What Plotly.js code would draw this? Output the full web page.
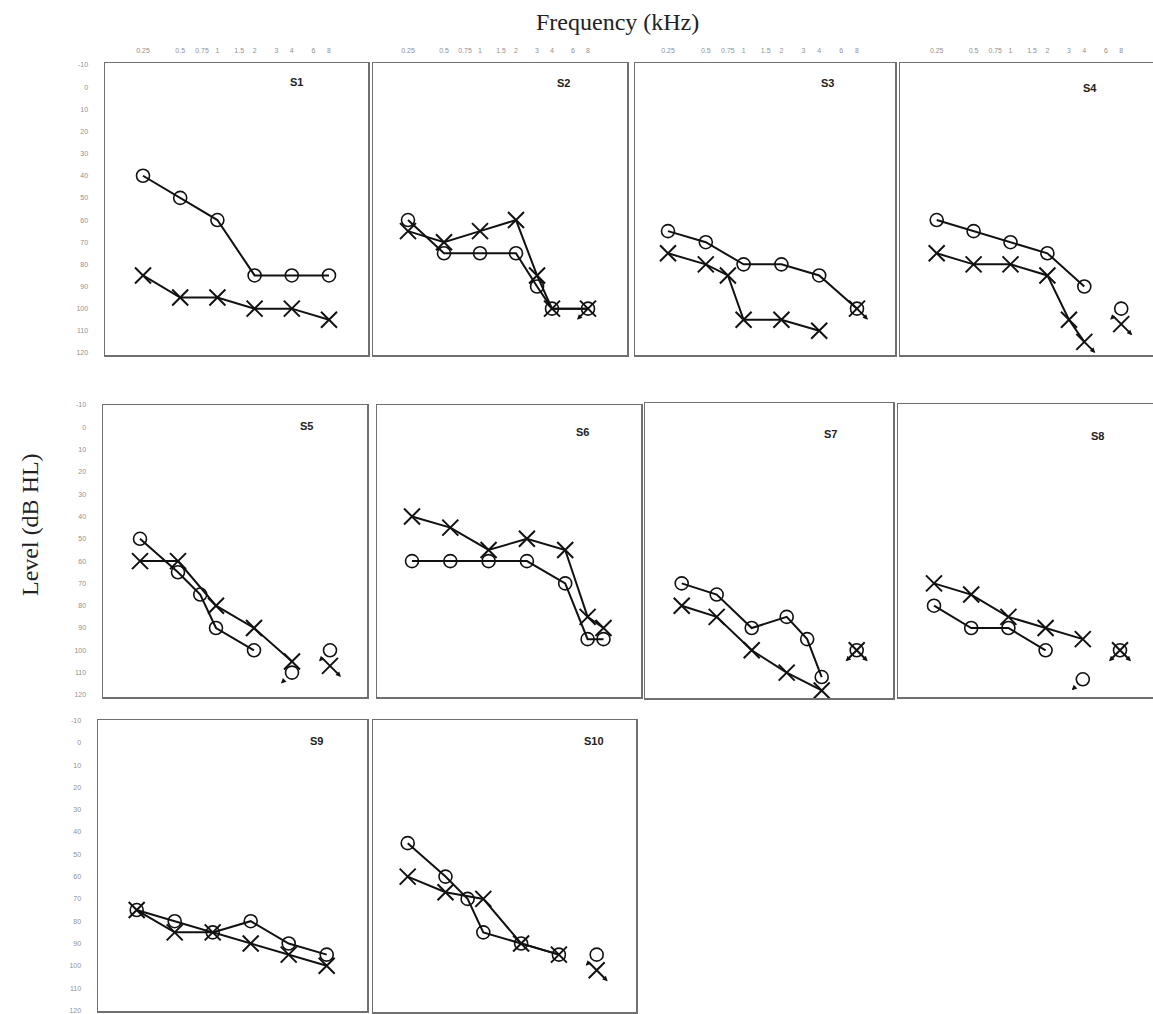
<!DOCTYPE html>
<html><head><meta charset="utf-8">
<script src="https://cdn.plot.ly/plotly-3.0.1.min.js"></script>
<style>html,body{margin:0;padding:0;background:#fff}#chart{width:1153px;height:1014px}</style>
</head><body><div id="chart"></div>
<script>
// ---------- tick labels ----------
const FREQ_TICKS = [0.25, 0.5, 0.75, 1, 1.5, 2, 3, 4, 6, 8];
const FREQ_TICK_TEXT = ['0.25', '0.5', '0.75', '1', '1.5', '2', '3', '4', '6', '8'];
const LEVEL_TICKS = [-10, 0, 10, 20, 30, 40, 50, 60, 70, 80, 90, 100, 110, 120];
const LEVEL_TICK_TEXT = ['-10', '0', '10', '20', '30', '40', '50', '60', '70', '80', '90', '100', '110', '120'];

// ---------- data: O = right ear, X = left ear (dB HL) ----------
const s1RightFreq = [0.25, 0.5, 1, 2, 4, 8];
const s1RightDb   = [40, 50, 60, 85, 85, 85];
const s1LeftFreq  = [0.25, 0.5, 1, 2, 4, 8];
const s1LeftDb    = [85, 95, 95, 100, 100, 105];

const s2RightFreq = [0.25, 0.5, 1, 2, 3, 4, 8];
const s2RightDb   = [60, 75, 75, 75, 90, 100, 100];
const s2LeftFreq  = [0.25, 0.5, 1, 2, 3, 4, 8];
const s2LeftDb    = [65, 70, 65, 60, 85, 100, 100];
const s2RightNrFreq = [8], s2RightNrDb = [100];

const s3RightFreq = [0.25, 0.5, 1, 2, 4, 8];
const s3RightDb   = [65, 70, 80, 80, 85, 100];
const s3LeftFreq  = [0.25, 0.5, 0.75, 1, 2, 4];
const s3LeftDb    = [75, 80, 85, 105, 105, 110];
const s3LeftExtraFreq = [8], s3LeftExtraDb = [100];
const s3LeftNrFreq = [8], s3LeftNrDb = [100];

const s4RightFreq = [0.25, 0.5, 1, 2, 4];
const s4RightDb   = [60, 65, 70, 75, 90];
const s4LeftFreq  = [0.25, 0.5, 1, 2, 3, 4];
const s4LeftDb    = [75, 80, 80, 85, 105, 115];
const s4RightExtraFreq = [8], s4RightExtraDb = [100];
const s4LeftExtraFreq = [8], s4LeftExtraDb = [107];
const s4RightNrFreq = [8], s4RightNrDb = [100];
const s4LeftNrFreq = [4, 8], s4LeftNrDb = [115, 107];

const s5RightFreq = [0.25, 0.5, 0.75, 1, 2];
const s5RightDb   = [50, 65, 75, 90, 100];
const s5LeftFreq  = [0.25, 0.5, 1, 2, 4];
const s5LeftDb    = [60, 60, 80, 90, 105];
const s5RightExtraFreq = [4, 8], s5RightExtraDb = [110, 100];
const s5LeftExtraFreq = [8], s5LeftExtraDb = [107];
const s5RightNrFreq = [4, 8], s5RightNrDb = [110, 100];
const s5LeftNrFreq = [8], s5LeftNrDb = [107];

const s6RightFreq = [0.25, 0.5, 1, 2, 4, 6, 8];
const s6RightDb   = [60, 60, 60, 60, 70, 95, 95];
const s6LeftFreq  = [0.25, 0.5, 1, 2, 4, 6, 8];
const s6LeftDb    = [40, 45, 55, 50, 55, 85, 90];

const s7RightFreq = [0.25, 0.5, 1, 2, 3, 4];
const s7RightDb   = [70, 75, 90, 85, 95, 112];
const s7LeftFreq  = [0.25, 0.5, 1, 2, 4];
const s7LeftDb    = [80, 85, 100, 110, 118];
const s7RightExtraFreq = [8], s7RightExtraDb = [100];
const s7LeftExtraFreq = [8], s7LeftExtraDb = [100];
const s7RightNrFreq = [8], s7RightNrDb = [100];
const s7LeftNrFreq = [8], s7LeftNrDb = [100];

const s8RightFreq = [0.25, 0.5, 1, 2];
const s8RightDb   = [80, 90, 90, 100];
const s8LeftFreq  = [0.25, 0.5, 1, 2, 4];
const s8LeftDb    = [70, 75, 85, 90, 95];
const s8RightExtraFreq = [4, 8], s8RightExtraDb = [113, 100];
const s8LeftExtraFreq = [8], s8LeftExtraDb = [100];
const s8RightNrFreq = [4, 8], s8RightNrDb = [113, 100];
const s8LeftNrFreq = [8], s8LeftNrDb = [100];

const s9RightFreq = [0.25, 0.5, 1, 2, 4, 8];
const s9RightDb   = [75, 80, 85, 80, 90, 95];
const s9LeftFreq  = [0.25, 0.5, 1, 2, 4, 8];
const s9LeftDb    = [75, 85, 85, 90, 95, 100];

const s10RightFreq = [0.25, 0.5, 0.75, 1, 2, 4];
const s10RightDb   = [45, 60, 70, 85, 90, 95];
const s10LeftFreq  = [0.25, 0.5, 1, 2, 4];
const s10LeftDb    = [60, 67, 70, 90, 95];
const s10RightExtraFreq = [8], s10RightExtraDb = [95];
const s10LeftExtraFreq = [8], s10LeftExtraDb = [102];
const s10RightNrFreq = [8], s10RightNrDb = [95];
const s10LeftNrFreq = [8], s10LeftNrDb = [102];

const E = [];
const SUBJECTS = [
  {name:'S1', rf:s1RightFreq, rd:s1RightDb, lf:s1LeftFreq, ld:s1LeftDb},
  {name:'S2', rf:s2RightFreq, rd:s2RightDb, lf:s2LeftFreq, ld:s2LeftDb, rnf:s2RightNrFreq, rnd:s2RightNrDb},
  {name:'S3', rf:s3RightFreq, rd:s3RightDb, lf:s3LeftFreq, ld:s3LeftDb, lef:s3LeftExtraFreq, led:s3LeftExtraDb, lnf:s3LeftNrFreq, lnd:s3LeftNrDb},
  {name:'S4', rf:s4RightFreq, rd:s4RightDb, lf:s4LeftFreq, ld:s4LeftDb, ref:s4RightExtraFreq, red:s4RightExtraDb, lef:s4LeftExtraFreq, led:s4LeftExtraDb, rnf:s4RightNrFreq, rnd:s4RightNrDb, lnf:s4LeftNrFreq, lnd:s4LeftNrDb},
  {name:'S5', rf:s5RightFreq, rd:s5RightDb, lf:s5LeftFreq, ld:s5LeftDb, ref:s5RightExtraFreq, red:s5RightExtraDb, lef:s5LeftExtraFreq, led:s5LeftExtraDb, rnf:s5RightNrFreq, rnd:s5RightNrDb, lnf:s5LeftNrFreq, lnd:s5LeftNrDb},
  {name:'S6', rf:s6RightFreq, rd:s6RightDb, lf:s6LeftFreq, ld:s6LeftDb},
  {name:'S7', rf:s7RightFreq, rd:s7RightDb, lf:s7LeftFreq, ld:s7LeftDb, ref:s7RightExtraFreq, red:s7RightExtraDb, lef:s7LeftExtraFreq, led:s7LeftExtraDb, rnf:s7RightNrFreq, rnd:s7RightNrDb, lnf:s7LeftNrFreq, lnd:s7LeftNrDb},
  {name:'S8', rf:s8RightFreq, rd:s8RightDb, lf:s8LeftFreq, ld:s8LeftDb, ref:s8RightExtraFreq, red:s8RightExtraDb, lef:s8LeftExtraFreq, led:s8LeftExtraDb, rnf:s8RightNrFreq, rnd:s8RightNrDb, lnf:s8LeftNrFreq, lnd:s8LeftNrDb},
  {name:'S9', rf:s9RightFreq, rd:s9RightDb, lf:s9LeftFreq, ld:s9LeftDb},
  {name:'S10', rf:s10RightFreq, rd:s10RightDb, lf:s10LeftFreq, ld:s10LeftDb, ref:s10RightExtraFreq, red:s10RightExtraDb, lef:s10LeftExtraFreq, led:s10LeftExtraDb, rnf:s10RightNrFreq, rnd:s10RightNrDb, lnf:s10LeftNrFreq, lnd:s10LeftNrDb}
];

// ---------- layout geometry (pixels in the 1153x1014 page) ----------
const W = 1153, H = 1014;
const PANELS = [
  {box:[105, 63, 368, 355],  p025:143,   oct:37.2, ycal:[65, 2.215], ylab:true,  xlab:true,  lab:[296, 82]},
  {box:[373, 63, 627, 355],  p025:408,   oct:36.0, ycal:[65, 2.215], ylab:false, xlab:true,  lab:[563, 83]},
  {box:[635, 63, 895, 355],  p025:668,   oct:37.8, ycal:[65, 2.215], ylab:false, xlab:true,  lab:[827, 83]},
  {box:[900, 63, 1153, 355], p025:936.7, oct:36.9, ycal:[65, 2.215], ylab:false, xlab:true,  lab:[1090, 88]},
  {box:[103, 405, 367, 697], p025:140,   oct:38.0, ycal:[405, 2.23], ylab:true,  xlab:false, lab:[306, 426]},
  {box:[377, 405, 641, 697], p025:412,   oct:38.3, ycal:[405, 2.23], ylab:false, xlab:false, lab:[582, 432]},
  {box:[645, 403, 893, 698], p025:681.7, oct:35.0, ycal:[405, 2.23], ylab:false, xlab:false, lab:[830, 434]},
  {box:[898, 404, 1153, 697],p025:934,   oct:37.2, ycal:[405, 2.23], ylab:false, xlab:false, lab:[1097, 436]},
  {box:[98, 720, 367, 1011], p025:136.7, oct:38.0, ycal:[720.5, 2.23], ylab:true,  xlab:false, lab:[316, 741]},
  {box:[373, 720, 636, 1012],p025:407.7, oct:37.8, ycal:[720.5, 2.23], ylab:false, xlab:false, lab:[594, 741]}
];

const INK = '#111';
const traces = [];
const layout = {
  width: W, height: H, margin: {l:0, r:0, t:0, b:0},
  paper_bgcolor: '#fff', plot_bgcolor: '#fff', showlegend: false,
  annotations: [], font: {family: 'Liberation Sans, Arial, sans-serif'}
};

function oMarker() { return {symbol:'circle-open', size:13, color:INK, line:{width:1.6, color:INK}}; }
function xMarker() { return {symbol:'x-thin-open', size:16, color:INK, line:{width:2, color:INK}}; }

SUBJECTS.forEach((s, i) => {
  const p = PANELS[i];
  const n = i === 0 ? '' : String(i + 1);
  const xa = 'x' + n, ya = 'y' + n;
  const [x0, t, x1, b] = p.box;
  const L2 = Math.log10(2);
  const xr = [Math.log10(0.25) + (x0 - p.p025) / p.oct * L2,
              Math.log10(0.25) + (x1 - p.p025) / p.oct * L2];
  const [y0, k] = p.ycal;
  const vTop = (t - y0) / k - 10, vBot = (b - y0) / k - 10;

  layout['xaxis' + n] = {
    type:'log', range:xr, domain:[x0 / W, x1 / W], anchor:ya,
    showgrid:false, zeroline:false, showline:true, mirror:true,
    linecolor:'#707070', linewidth:1.5, ticks:'', side:'top',
    tickmode:'array', tickvals:FREQ_TICKS, ticktext:FREQ_TICK_TEXT,
    showticklabels:p.xlab, tickfont:{size:7, color:'#909090'}, ticklabelstandoff:6,
    fixedrange:true
  };
  layout['yaxis' + n] = {
    range:[vBot, vTop], domain:[1 - b / H, 1 - t / H], anchor:xa,
    showgrid:false, zeroline:false, showline:true, mirror:true,
    linecolor:'#707070', linewidth:1.5, ticks:'',
    tickmode:'array', tickvals:LEVEL_TICKS, ticktext:LEVEL_TICK_TEXT,
    showticklabels:p.ylab, tickfont:{size:7, color:'#909090'}, ticklabelstandoff:14,
    fixedrange:true
  };

  traces.push({x:s.rf, y:s.rd, xaxis:xa, yaxis:ya, mode:'lines+markers', line:{color:INK, width:2}, marker:oMarker(), cliponaxis:false, hoverinfo:'skip'});
  traces.push({x:s.lf, y:s.ld, xaxis:xa, yaxis:ya, mode:'lines+markers', line:{color:INK, width:2}, marker:xMarker(), cliponaxis:false, hoverinfo:'skip'});
  if (s.ref) traces.push({x:s.ref, y:s.red, xaxis:xa, yaxis:ya, mode:'markers', marker:oMarker(), cliponaxis:false, hoverinfo:'skip'});
  if (s.lef) traces.push({x:s.lef, y:s.led, xaxis:xa, yaxis:ya, mode:'markers', marker:xMarker(), cliponaxis:false, hoverinfo:'skip'});

  (s.rnf || E).forEach((f, j) => layout.annotations.push({
    xref:xa, yref:ya, x:Math.log10(f), y:s.rnd[j], xshift:-11, yshift:-11,
    text:'', showarrow:true, ax:5, ay:-5, arrowhead:2, arrowsize:0.8, arrowwidth:1.3, arrowcolor:INK
  }));
  (s.lnf || E).forEach((f, j) => layout.annotations.push({
    xref:xa, yref:ya, x:Math.log10(f), y:s.lnd[j], xshift:11, yshift:-11,
    text:'', showarrow:true, ax:-5, ay:-5, arrowhead:2, arrowsize:0.8, arrowwidth:1.3, arrowcolor:INK
  }));

  layout.annotations.push({
    xref:'paper', yref:'paper', x:p.lab[0] / W, y:1 - p.lab[1] / H, xanchor:'center', yanchor:'middle',
    text:'<b>' + s.name + '</b>', showarrow:false, font:{size:11, color:'#222', family:'Liberation Sans, Arial, sans-serif'}
  });
});

layout.annotations.push({
  xref:'paper', yref:'paper', x:617 / W, y:1 - 22 / H, xanchor:'center', yanchor:'middle',
  text:'Frequency (kHz)', showarrow:false, font:{size:24, color:'#222', family:'Liberation Serif, Times New Roman, serif'}
});
layout.annotations.push({
  xref:'paper', yref:'paper', x:30 / W, y:1 - 525 / H, xanchor:'center', yanchor:'middle', textangle:-90,
  text:'Level (dB HL)', showarrow:false, font:{size:24, color:'#222', family:'Liberation Serif, Times New Roman, serif'}
});

Plotly.newPlot('chart', traces, layout, {staticPlot:true, displayModeBar:false});
</script></body></html>
